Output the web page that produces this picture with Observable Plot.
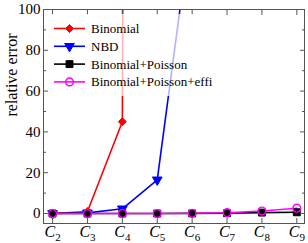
<!DOCTYPE html>
<html><head><meta charset="utf-8">
<script src="https://cdn.jsdelivr.net/npm/d3@7"></script>
<script src="https://cdn.jsdelivr.net/npm/@observablehq/plot@0.6"></script>
<style>body{margin:0;background:#fff} svg text{font-family:"Liberation Serif",serif !important}</style>
</head><body><div id="chart"></div>
<script>
const xCat = [2, 3, 4, 5, 6, 7, 8, 9];            // C subscripts
const yMajor = [0, 20, 40, 60, 80, 100];
const yMinor = [10, 30, 50, 70, 90];
const seriesNames = ["Binomial", "NBD", "Binomial+Poisson", "Binomial+Poisson+effi"];
const binomialVals = [0, 1.0, 45, 5000];
const nbdVals = [0, 0.3, 2.3, 16.5, 145];
const binPoisVals = [0, 0, 0, 0, 0.05, 0.15, 0.45, 0.6];
const binPoisEffVals = [0, 0, 0, 0, 0.1, 0.4, 1.2, 2.6];
const yLabel = "relative error";

const colors = ["#ff0000", "#0000ff", "#000000", "#ff00ff"];
const symbols = ["diamond2", "triangle", "square", "circle"];
const rotations = [0, 180, 0, 0];
const radii = [3.6, 3.6, 3.9, 3.9];
const fills = ["#ff0000", "#0000ff", "#000000", "none"];
const allVals = [binomialVals, nbdVals, binPoisVals, binPoisEffVals];

const tables = allVals.map((vals, s) => vals.map((v, i) => ({x: xCat[i], y: v, s: seriesNames[s]})));

const axisColor = "#555";
const font = "Liberation Serif, serif";

const marks = [];
tables.forEach((t, s) => {
  marks.push(Plot.line(t, {x: "x", y: "y", stroke: colors[s], strokeWidth: 1.6, clip: true}));
});
tables.forEach((t, s) => {
  marks.push(Plot.dot(t, {x: "x", y: "y", symbol: () => symbols[s], r: radii[s], rotate: rotations[s],
    fill: fills[s], stroke: colors[s], strokeWidth: s === 3 ? 1.4 : 1, clip: true}));
});

const chart = Plot.plot({
  width: 308, height: 243,
  marginLeft: 43, marginRight: 4, marginTop: 9, marginBottom: 20,
  x: {domain: [1.74, 9.22]},
  y: {domain: [-4.9, 100]},
  style: {fontFamily: font, background: "white", color: "black"},
  marks: [
    ...marks,
    Plot.frame({stroke: axisColor, strokeWidth: 1}),
    Plot.axisY({anchor: "left", ticks: yMajor, tickSize: 5, insetLeft: 5, fill: "none", label: null, stroke: axisColor}),
    Plot.axisY({anchor: "left", ticks: yMinor, tickSize: 3, insetLeft: 3, fill: "none", label: null, stroke: axisColor}),
    Plot.axisY({anchor: "right", ticks: yMajor, tickSize: 5, insetRight: 5, fill: "none", label: null, stroke: axisColor}),
    Plot.axisY({anchor: "right", ticks: yMinor, tickSize: 3, insetRight: 3, fill: "none", label: null, stroke: axisColor}),
    Plot.axisY({anchor: "left", ticks: yMajor, tickSize: 0, tickPadding: 3, fontSize: 15, label: null, fill: "black"}),
    Plot.axisX({anchor: "bottom", ticks: xCat, tickSize: 5, insetBottom: 5, fill: "none", label: null, stroke: axisColor}),
    Plot.axisX({anchor: "top", ticks: xCat, tickSize: 5, insetTop: 5, fill: "none", label: null, stroke: axisColor}),
    Plot.axisX({anchor: "bottom", ticks: xCat, tickSize: 0, tickPadding: 2, fontSize: 16, tickFormat: d => "C" + d, label: null, fill: "black"}),
    Plot.text([yLabel], {frameAnchor: "left", rotate: -90, dx: -32, fontSize: 16, fill: "black"})
  ]
});
document.getElementById("chart").append(chart);

const svg = d3.select(chart);
// subscript x tick labels
svg.selectAll('[aria-label="x-axis tick label"] text').each(function() {
  const t = this.textContent;
  const el = d3.select(this);
  el.text(null);
  el.append("tspan").attr("font-style", "italic").text(t.slice(0, 1));
  el.append("tspan").attr("font-size", 11).attr("dy", 4).text(t.slice(1));
});

// legend (layout only)
const lg = svg.append("g");
lg.append("rect").attr("x", 48).attr("y", 14).attr("width", 178).attr("height", 82)
  .attr("fill", "white").attr("fill-opacity", 0.7);
seriesNames.forEach((name, i) => {
  const y = 28.5 + i * 17.8;
  lg.append("line").attr("x1", 54).attr("x2", 85).attr("y1", y).attr("y2", y)
    .attr("stroke", colors[i]).attr("stroke-width", 1.6);
  const typeMap = {diamond2: d3.symbolDiamond2, triangle: d3.symbolTriangle, square: d3.symbolSquare, circle: d3.symbolCircle};
  lg.append("path").attr("d", d3.symbol(typeMap[symbols[i]], Math.PI * radii[i] * radii[i])())
    .attr("transform", `translate(69.5,${y}) rotate(${rotations[i]})`)
    .attr("fill", fills[i]).attr("stroke", colors[i]).attr("stroke-width", i === 3 ? 1.4 : 1);
  lg.append("text").attr("x", 91).attr("y", y).attr("dy", "0.35em").attr("text-anchor", "start")
    .attr("font-size", 13).attr("fill", "black").text(name);
});
</script></body></html>
